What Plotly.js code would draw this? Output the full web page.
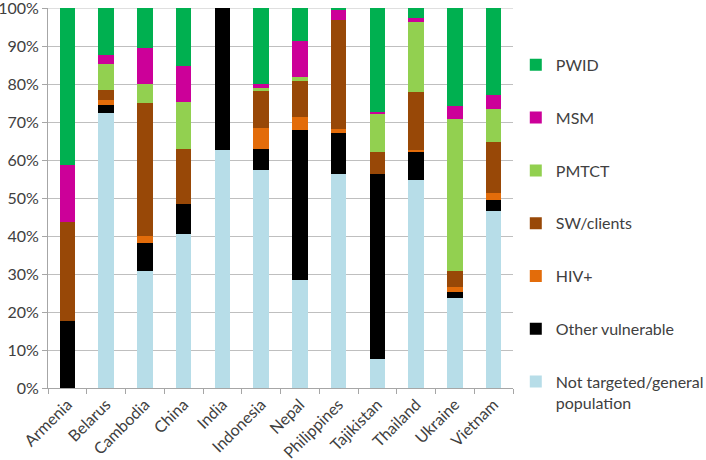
<!DOCTYPE html>
<html>
<head>
<meta charset="utf-8">
<script src="https://cdn.plot.ly/plotly-3.0.1.min.js"></script>
<style>html,body{margin:0;padding:0;background:#fff;}#chart{width:706px;height:460px;}</style>
</head>
<body>
<div id="chart"></div>
<script>
const countries = ["Armenia","Belarus","Cambodia","China","India","Indonesia","Nepal","Philippines","Tajikistan","Thailand","Ukraine","Vietnam"];
const general   = [0, 72.3, 30.7, 40.6, 62.6, 57.5, 28.5, 56.3, 7.7, 54.7, 23.7, 46.5];
const otherVuln = [17.6, 2.2, 7.5, 7.7, 37.4, 5.3, 39.3, 10.9, 48.7, 7.4, 1.5, 2.9];
const hivPos    = [0, 1.2, 1.7, 0, 0, 5.7, 3.6, 0.9, 0, 0.6, 1.5, 2.0];
const swClients = [26.0, 2.6, 35.0, 14.5, 0, 9.6, 9.5, 28.8, 5.6, 15.3, 4.2, 13.4];
const pmtct     = [0, 7.0, 5.1, 12.4, 0, 0.8, 1.0, 0, 10.0, 18.3, 39.9, 8.6];
const msm       = [15.1, 2.4, 9.5, 9.6, 0, 1.1, 9.3, 2.6, 0.6, 1.2, 3.4, 3.8];
const pwid      = [41.3, 12.3, 10.5, 15.2, 0, 20.0, 8.8, 0.5, 27.4, 2.5, 25.8, 22.8];
const seriesNames = ["Not targeted/general<br>population","Other vulnerable","HIV+","SW/clients","PMTCT","MSM","PWID"];
const yTickVals = [0,10,20,30,40,50,60,70,80,90,100];
const yTickText = ["0%","10%","20%","30%","40%","50%","60%","70%","80%","90%","100%"];

const seriesData = [general, otherVuln, hivPos, swClients, pmtct, msm, pwid];
const colors = ["#b7dde8","#000000","#e36c0a","#984807","#92d050","#cc0099","#00b050"];

const traces = seriesData.map((vals, i) => ({
  type: 'bar',
  name: seriesNames[i],
  x: countries,
  y: vals,
  marker: {color: colors[i], line: {width: 0}},
  legendgroup: 'g' + i,
  legendrank: 1000 - i,
  hoverinfo: 'name+y'
}));

const fam = 'Lato, "Open Sans", sans-serif';
const font = {family: fam, size: 16, color: '#404040'};

const layout = {
  width: 706, height: 460,
  margin: {l: 48, r: 193, t: 8, b: 72, pad: 0, autoexpand: false},
  barmode: 'stack',
  bargap: 0.6,
  paper_bgcolor: '#fff',
  plot_bgcolor: '#fff',
  font: font,
  showlegend: true,
  legend: {
    x: 1.006, xanchor: 'left',
    y: 0.895, yanchor: 'top',
    traceorder: 'grouped',
    tracegroupgap: 29,
    valign: 'top',
    font: {family: fam, size: 16, color: '#404040'},
    bgcolor: 'rgba(0,0,0,0)'
  },
  xaxis: {
    type: 'category',
    tickangle: -45,
    ticks: 'outside',
    tickson: 'boundaries',
    ticklen: 5,
    tickcolor: '#a6a6a6',
    showline: true,
    linecolor: '#a6a6a6',
    linewidth: 1,
    showgrid: false,
    automargin: false,
    ticklabeloverflow: 'allow',
    tickfont: {family: fam, size: 16, color: '#404040'}
  },
  yaxis: {
    range: [0, 100],
    tickmode: 'array',
    tickvals: yTickVals,
    ticktext: yTickText,
    ticks: 'outside',
    ticklen: 5,
    tickcolor: '#a6a6a6',
    showline: true,
    linecolor: '#a6a6a6',
    linewidth: 1,
    showgrid: true,
    gridcolor: '#bfbfbf',
    gridwidth: 1,
    zeroline: false,
    automargin: false,
    ticklabeloverflow: 'allow',
    tickfont: {family: fam, size: 16, color: '#404040'},
    fixedrange: true
  },
  shapes: [{
    type: 'line', xref: 'paper', yref: 'y', x0: 0, x1: 1, y0: 100, y1: 100,
    line: {color: '#bfbfbf', width: 1}, layer: 'below'
  }]
};

Plotly.newPlot('chart', traces, layout, {displayModeBar: false, staticPlot: true});
</script>
</body>
</html>
